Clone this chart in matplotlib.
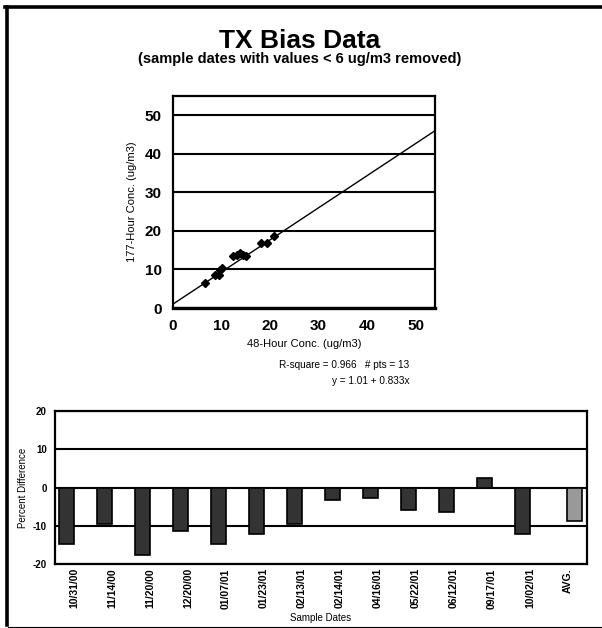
import matplotlib
matplotlib.use('Agg')
import matplotlib.pyplot as plt
from matplotlib.lines import Line2D
import numpy as np

plt.rcParams['font.family'] = ['Liberation Sans', 'DejaVu Sans']
plt.rcParams['axes.unicode_minus'] = False

# scatter data (48-hour vs 177-hour)
x48 = [6.6, 8.7, 9.4, 9.7, 10.0, 12.4, 13.1, 13.8, 14.5, 15.0, 18.2, 19.4, 20.8]
y177 = [6.5, 8.6, 8.6, 9.9, 10.3, 13.4, 13.8, 14.2, 13.8, 13.4, 16.8, 16.8, 18.8]
fit_a = 1.01
fit_b = 0.833

# bar data
dates = ['10/31/00', '11/14/00', '11/20/00', '12/20/00', '01/07/01', '01/23/01',
         '02/13/01', '02/14/01', '04/16/01', '05/22/01', '06/12/01', '09/17/01',
         '10/02/01']
pct_diff = [-14.7, -9.5, -17.7, -11.5, -14.7, -12.1, -9.5, -3.2, -2.7, -5.8,
            -6.3, 2.6, -12.1]
avg_label = 'AVG.'
avg_val = -8.8

W, H = 602, 628
fig = plt.figure(figsize=(W / 100, H / 100), dpi=100)

def fx(px):
    return px / W

def fy(py):
    return 1 - py / H

# outer frame
fig.add_artist(Line2D([fx(6.5), fx(6.5)], [fy(6.5), fy(625)], color='black', lw=2.6))
fig.add_artist(Line2D([fx(5), fx(602)], [fy(6.5), fy(6.5)], color='black', lw=2.6))
fig.add_artist(Line2D([fx(8), fx(602)], [fy(626.5), fy(626.5)], color='black', lw=0.8))

fig.text(fx(300), fy(41), 'TX Bias Data', ha='center', va='center',
         fontsize=19, fontweight='bold')
fig.text(fx(300), fy(59), '(sample dates with values < 6 ug/m3 removed)',
         ha='center', va='center', fontsize=10.5, fontweight='bold')

# scatter plot
ax1 = fig.add_axes([fx(173), fy(308), fx(435) - fx(173), fy(96) - fy(308)])
xs = np.array([0, 54])
ax1.plot(xs, fit_a + fit_b * xs, color='black', lw=1.0, zorder=3)
ax1.plot(x48, y177, 'D', color='black', ms=4.5, zorder=4)
ax1.set_xlim(0, 54)
ax1.set_ylim(0, 55)
ax1.set_xticks([0, 10, 20, 30, 40, 50])
ax1.set_yticks([0, 10, 20, 30, 40, 50])
ax1.yaxis.grid(True, color='black', lw=1.5)
ax1.set_axisbelow(True)
ax1.tick_params(length=0, labelsize=11, pad=8)
for lab in ax1.get_xticklabels() + ax1.get_yticklabels():
    lab.set_fontweight('bold')
for s in ax1.spines.values():
    s.set_linewidth(1.6)
ax1.spines['bottom'].set_linewidth(2.4)
ax1.set_xlabel('48-Hour Conc. (ug/m3)', fontsize=8, labelpad=4)
ax1.set_ylabel('177-Hour Conc. (ug/m3)', fontsize=8, labelpad=6)

fig.text(fx(409), fy(365), 'R-square = 0.966   # pts = 13', ha='right',
         va='center', fontsize=7.2)
fig.text(fx(409), fy(381), 'y = 1.01 + 0.833x', ha='right', va='center',
         fontsize=7.2)

# bar chart
ax2 = fig.add_axes([fx(55), fy(564), fx(587) - fx(55), fy(411) - fy(564)])
labels = dates + [avg_label]
pos = np.arange(len(labels))
ax2.bar(pos[:-1] - 0.2, pct_diff, width=0.4, color='#333333',
        edgecolor='black', lw=1.2, zorder=3)
ax2.bar(pos[-1] + 0.18, avg_val, width=0.4, color='#999999',
        edgecolor='black', lw=1.2, zorder=3)
ax2.set_xlim(-0.5, len(labels) - 0.5)
ax2.set_ylim(-20, 20)
ax2.set_yticks([-20, -10, 0, 10, 20])
ax2.set_xticks(pos)
ax2.set_xticklabels(labels, rotation=90, fontsize=7.5, fontweight='bold')
ax2.yaxis.grid(True, color='black', lw=1.5)
ax2.set_axisbelow(True)
ax2.tick_params(axis='x', length=0, pad=3)
ax2.tick_params(axis='y', length=0, labelsize=7, pad=6)
for lab in ax2.get_yticklabels():
    lab.set_fontweight('bold')
for s in ax2.spines.values():
    s.set_linewidth(1.6)
ax2.set_ylabel('Percent Difference', fontsize=7, labelpad=3)
ax2.set_xlabel('Sample Dates', fontsize=7, labelpad=3)

fig.savefig('out.png', dpi=100)
